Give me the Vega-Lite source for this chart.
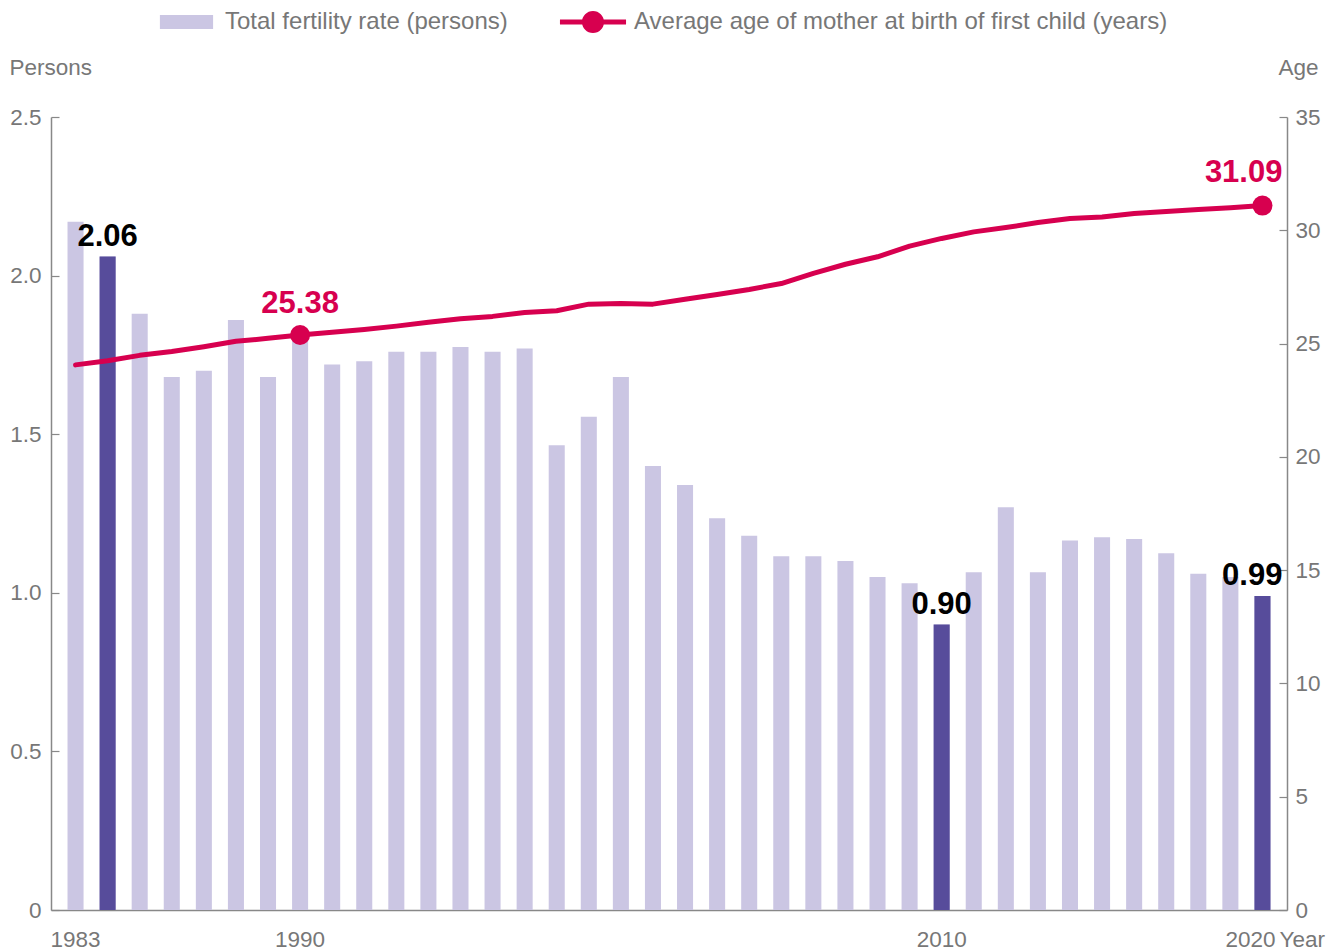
{
  "$schema": "https://vega.github.io/schema/vega-lite/v6.json",
  "width": 1236,
  "height": 793,
  "autosize": {"type": "none"},
  "padding": {"left": 51, "top": 117, "right": 51, "bottom": 40},
  "background": "white",
  "config": {
    "view": {"stroke": null},
    "font": "Liberation Sans",
    "axis": {
      "domainColor": "#888888",
      "domainWidth": 1.5,
      "tickColor": "#888888",
      "tickWidth": 1.2,
      "labelColor": "#777777",
      "titleColor": "#777777",
      "labelFont": "Liberation Sans",
      "titleFont": "Liberation Sans",
      "labelFontSize": 22.5,
      "titleFontSize": 22.5,
      "titleFontWeight": "normal",
      "grid": false
    }
  },
  "data": {
    "values": [
      {"year": 1983, "tfr": 2.17, "age": 24.06},
      {"year": 1984, "tfr": 2.06, "age": 24.24},
      {"year": 1985, "tfr": 1.88, "age": 24.48},
      {"year": 1986, "tfr": 1.68, "age": 24.65},
      {"year": 1987, "tfr": 1.70, "age": 24.86},
      {"year": 1988, "tfr": 1.86, "age": 25.10},
      {"year": 1989, "tfr": 1.68, "age": 25.23},
      {"year": 1990, "tfr": 1.81, "age": 25.38},
      {"year": 1991, "tfr": 1.72, "age": 25.50},
      {"year": 1992, "tfr": 1.73, "age": 25.62},
      {"year": 1993, "tfr": 1.76, "age": 25.77},
      {"year": 1994, "tfr": 1.76, "age": 25.94},
      {"year": 1995, "tfr": 1.775, "age": 26.10},
      {"year": 1996, "tfr": 1.76, "age": 26.20},
      {"year": 1997, "tfr": 1.77, "age": 26.37},
      {"year": 1998, "tfr": 1.465, "age": 26.45},
      {"year": 1999, "tfr": 1.555, "age": 26.74},
      {"year": 2000, "tfr": 1.68, "age": 26.77},
      {"year": 2001, "tfr": 1.40, "age": 26.74},
      {"year": 2002, "tfr": 1.34, "age": 26.96},
      {"year": 2003, "tfr": 1.235, "age": 27.17},
      {"year": 2004, "tfr": 1.18, "age": 27.39},
      {"year": 2005, "tfr": 1.115, "age": 27.65},
      {"year": 2006, "tfr": 1.115, "age": 28.10},
      {"year": 2007, "tfr": 1.10, "age": 28.50},
      {"year": 2008, "tfr": 1.05, "age": 28.83},
      {"year": 2009, "tfr": 1.03, "age": 29.30},
      {"year": 2010, "tfr": 0.90, "age": 29.64},
      {"year": 2011, "tfr": 1.065, "age": 29.93},
      {"year": 2012, "tfr": 1.27, "age": 30.12},
      {"year": 2013, "tfr": 1.065, "age": 30.34},
      {"year": 2014, "tfr": 1.165, "age": 30.52},
      {"year": 2015, "tfr": 1.175, "age": 30.59},
      {"year": 2016, "tfr": 1.17, "age": 30.74},
      {"year": 2017, "tfr": 1.125, "age": 30.83},
      {"year": 2018, "tfr": 1.06, "age": 30.92},
      {"year": 2019, "tfr": 1.05, "age": 31.00},
      {"year": 2020, "tfr": 0.99, "age": 31.09}
    ]
  },
  "layer": [
    {
      "layer": [
        {
          "mark": {"type": "bar"},
          "encoding": {
            "x": {
              "field": "year",
              "type": "ordinal",
              "scale": {"paddingInner": 0.5, "paddingOuter": 0.515},
              "axis": {
                "values": [1983, 1990, 2010, 2020],
                "ticks": false,
                "labelAngle": 0,
                "labelPadding": 18,
                "labelBaseline": "top",
                "labelOffset": {"condition": {"test": "datum.value == 2020", "value": -12}, "value": 0},
                "title": "Year",
                "titleX": 1228,
                "titleY": 18,
                "titleAlign": "left",
                "titleBaseline": "top"
              }
            },
            "y": {
              "field": "tfr",
              "type": "quantitative",
              "scale": {"domain": [0, 2.5], "nice": false},
              "axis": {
                "orient": "left",
                "values": [0, 0.5, 1, 1.5, 2, 2.5],
                "labelExpr": "datum.value == 0 ? '0' : format(datum.value, '.1f')",
                "tickSize": -8,
                "labelPadding": 18,
                "title": "Persons",
                "titleAngle": 0,
                "titleX": -42,
                "titleY": -50,
                "titleAlign": "left",
                "titleBaseline": "middle"
              }
            },
            "fill": {
              "datum": "Total fertility rate (persons)",
              "scale": {"range": ["#cbc6e3"]},
              "legend": {
                "orient": "none",
                "legendX": 121.5,
                "legendY": -109,
                "title": null,
                "padding": 0,
                "symbolType": "M-1.9,-0.5H1.9V0.5H-1.9Z",
                "symbolSize": 784,
                "symbolStrokeWidth": 0,
                "labelFont": "Liberation Sans",
                "labelFontSize": 24,
                "labelColor": "#777777",
                "labelOffset": 24.5,
                "labelLimit": 0
              }
            }
          }
        },
        {
          "transform": [{"filter": {"field": "year", "oneOf": [1984, 2010, 2020]}}],
          "mark": {"type": "bar", "color": "#574c9b"},
          "encoding": {
            "x": {"field": "year", "type": "ordinal"},
            "y": {"field": "tfr", "type": "quantitative"}
          }
        },
        {
          "transform": [{"filter": {"field": "year", "oneOf": [1984, 2010]}}],
          "mark": {"type": "text", "font": "Liberation Sans", "fontWeight": "bold", "fontSize": 31, "color": "#000000", "baseline": "alphabetic", "align": "center", "dy": -11},
          "encoding": {
            "x": {"field": "year", "type": "ordinal"},
            "y": {"field": "tfr", "type": "quantitative"},
            "text": {"field": "tfr", "type": "quantitative", "format": ".2f"}
          }
        },
        {
          "transform": [{"filter": {"field": "year", "equal": 2020}}],
          "mark": {"type": "text", "font": "Liberation Sans", "fontWeight": "bold", "fontSize": 31, "color": "#000000", "baseline": "alphabetic", "align": "right", "dx": 20, "dy": -11},
          "encoding": {
            "x": {"field": "year", "type": "ordinal"},
            "y": {"field": "tfr", "type": "quantitative"},
            "text": {"field": "tfr", "type": "quantitative", "format": ".2f"}
          }
        }
      ]
    },
    {
      "layer": [
        {
          "mark": {"type": "line", "color": "#d7004f", "strokeWidth": 5, "strokeCap": "round", "strokeJoin": "round"},
          "encoding": {
            "x": {"field": "year", "type": "ordinal"},
            "y": {
              "field": "age",
              "type": "quantitative",
              "scale": {"domain": [0, 35], "nice": false},
              "axis": {
                "orient": "right",
                "values": [0, 5, 10, 15, 20, 25, 30, 35],
                "tickSize": -8,
                "labelPadding": 16,
                "title": "Age",
                "titleAngle": 0,
                "titleX": -9,
                "titleY": -50,
                "titleAlign": "left",
                "titleBaseline": "middle"
              }
            }
          }
        },
        {
          "transform": [{"filter": {"field": "year", "oneOf": [1990, 2020]}}],
          "mark": {"type": "circle", "size": 400, "opacity": 1},
          "encoding": {
            "x": {"field": "year", "type": "ordinal"},
            "y": {"field": "age", "type": "quantitative"},
            "color": {
              "datum": "Average age of mother at birth of first child (years)",
              "scale": {"range": ["#d7004f"]},
              "legend": {
                "orient": "none",
                "legendX": 528,
                "legendY": -109,
                "title": null,
                "padding": 0,
                "symbolType": "M-2.36,-0.18H2.36V0.18H-2.36Z M-0.79,0A0.79,0.79 0 1,1 0.79,0A0.79,0.79 0 1,1 -0.79,0Z",
                "symbolSize": 784,
                "symbolStrokeWidth": 0,
                "symbolOpacity": 1,
                "labelFont": "Liberation Sans",
                "labelFontSize": 24,
                "labelColor": "#777777",
                "labelOffset": 27,
                "labelLimit": 0
              }
            }
          }
        },
        {
          "transform": [{"filter": {"field": "year", "equal": 1990}}],
          "mark": {"type": "text", "font": "Liberation Sans", "fontWeight": "bold", "fontSize": 31, "color": "#d7004f", "baseline": "alphabetic", "align": "center", "dy": -22},
          "encoding": {
            "x": {"field": "year", "type": "ordinal"},
            "y": {"field": "age", "type": "quantitative"},
            "text": {"field": "age", "type": "quantitative", "format": ".2f"}
          }
        },
        {
          "transform": [{"filter": {"field": "year", "equal": 2020}}],
          "mark": {"type": "text", "font": "Liberation Sans", "fontWeight": "bold", "fontSize": 31, "color": "#d7004f", "baseline": "alphabetic", "align": "right", "dx": 20, "dy": -24},
          "encoding": {
            "x": {"field": "year", "type": "ordinal"},
            "y": {"field": "age", "type": "quantitative"},
            "text": {"field": "age", "type": "quantitative", "format": ".2f"}
          }
        }
      ]
    }
  ],
  "resolve": {"scale": {"y": "independent"}}
}
